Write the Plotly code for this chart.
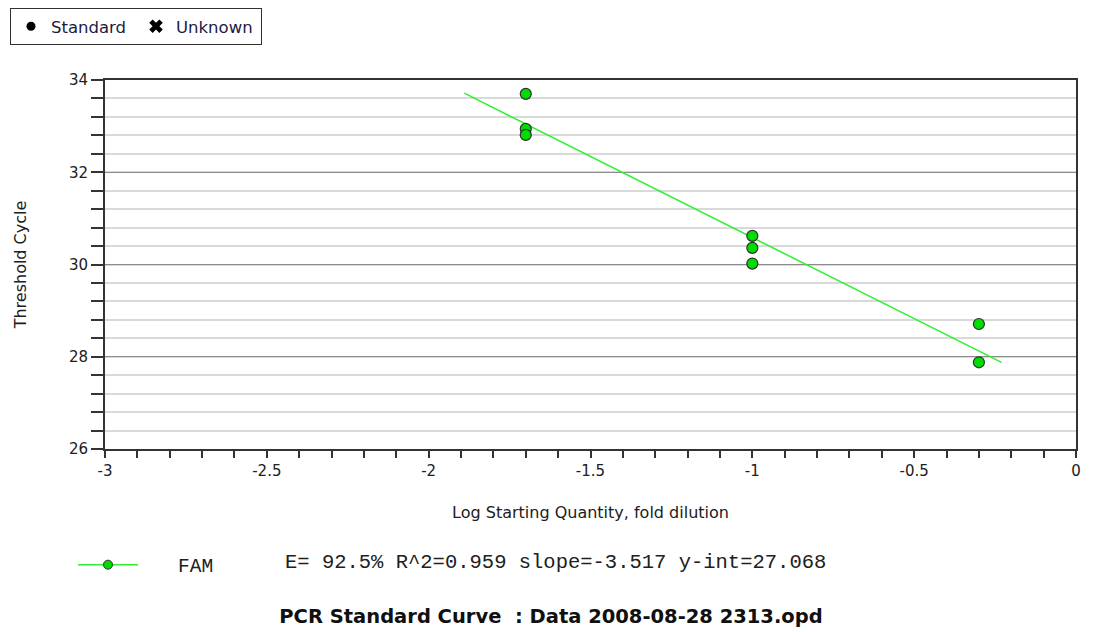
import plotly.graph_objects as go

# Standard wells: log starting quantity vs threshold cycle
log_qty = [-1.7, -1.7, -1.7, -1.0, -1.0, -1.0, -0.3, -0.3]
ct_values = [33.70, 32.94, 32.81, 30.62, 30.36, 30.02, 28.71, 27.88]

# Fit parameters reported for the FAM standard curve
efficiency_pct = 92.5
r_squared = 0.959
slope = -3.517
y_intercept = 27.068
fit_x_span = [-1.89, -0.23]

x_ticks = [-3, -2.5, -2, -1.5, -1, -0.5, 0]
x_tick_text = ["-3", "-2.5", "-2", "-1.5", "-1", "-0.5", "0"]
y_ticks = [26, 28, 30, 32, 34]

W, H = 1093, 632
L, R, T, B = 105, 14, 80, 183

fit_y = [slope * x + y_intercept for x in fit_x_span]

text_font = "DejaVu Sans, Verdana, sans-serif"
mono_font = "Liberation Mono, DejaVu Sans Mono, monospace"
text_color = "#202020"

fig = go.Figure()

# regression line
fig.add_trace(go.Scatter(
    x=fit_x_span, y=fit_y, mode="lines",
    line=dict(color="#33ee33", width=1.5),
    showlegend=False, hoverinfo="skip",
))
fig.add_trace(go.Scatter(
    x=log_qty, y=ct_values, mode="markers",
    marker=dict(color="#00dd00", size=11, line=dict(color="#303030", width=1.2)),
    showlegend=False,
))
# legend entry for the FAM series: line with marker
fig.add_trace(go.Scatter(
    x=[None], y=[None], mode="lines+markers", name="\u00a0\u00a0\u00a0FAM",
    line=dict(color="#33ee33", width=1.5),
    marker=dict(color="#00dd00", size=9, line=dict(color="#303030", width=1)),
    legend="legend2",
))
# sample-type legend
fig.add_trace(go.Scatter(
    x=[None], y=[None], mode="markers", name="Standard",
    marker=dict(color="black", size=9, symbol="circle"),
    legend="legend",
))
fig.add_trace(go.Scatter(
    x=[None], y=[None], mode="markers", name="Unknown",
    marker=dict(color="black", size=12, symbol="x"),
    legend="legend",
))

fig.add_annotation(
    text=f"E= {efficiency_pct}% R^2={r_squared} slope={slope} y-int={y_intercept}",
    xref="paper", yref="paper",
    x=(284 - L) / (W - L - R), y=(H - B - 562) / (H - T - B),
    xanchor="left", yanchor="middle", showarrow=False,
    font=dict(family=mono_font, size=20.5, color=text_color),
)

fig.update_layout(
    width=W, height=H,
    margin=dict(l=L, r=R, t=T, b=B),
    paper_bgcolor="white", plot_bgcolor="white",
    font=dict(family=text_font, size=15, color=text_color),
    title=dict(
        text="<b>PCR Standard Curve  : Data 2008-08-28 2313.opd</b>",
        xref="container", yref="container",
        x=551 / W, y=1 - 616 / H, xanchor="center", yanchor="middle",
        font=dict(family=text_font, size=19.5, color="#101010"),
    ),
    legend=dict(
        xref="container", yref="container",
        x=10 / W, y=1 - 8 / H, xanchor="left", yanchor="top",
        orientation="h", bordercolor="#303030", borderwidth=1,
        font=dict(family=text_font, size=16.5, color="#1a1a40"),
        itemwidth=30, tracegroupgap=0, entrywidth=80,
    ),
    legend2=dict(
        xref="container", yref="container",
        x=73 / W, y=1 - 565 / H, xanchor="left", yanchor="middle",
        orientation="h", borderwidth=0,
        font=dict(family=mono_font, size=19.5, color=text_color),
        itemwidth=60,
    ),
    xaxis=dict(
        range=[-3, 0], tickvals=x_ticks, ticktext=x_tick_text,
        showgrid=False, zeroline=False,
        showline=True, linecolor="#333333", linewidth=2, mirror=True,
        ticks="outside", ticklen=7, tickwidth=1.5, tickcolor="#333333",
        minor=dict(dtick=0.1, ticks="outside", ticklen=7, tickwidth=1.5,
                   tickcolor="#333333", showgrid=False),
        tickfont=dict(size=15),
        title=dict(text="Log Starting Quantity, fold dilution", standoff=28,
                   font=dict(size=16)),
    ),
    yaxis=dict(
        range=[26, 34], tickvals=y_ticks,
        showgrid=True, gridcolor="#8c8c8c", gridwidth=1,
        zeroline=False,
        showline=True, linecolor="#333333", linewidth=2, mirror=True,
        ticks="outside", ticklen=12, tickwidth=1.5, tickcolor="#333333",
        minor=dict(dtick=0.4, tick0=26, ticks="outside", ticklen=12, tickwidth=1.5,
                   tickcolor="#333333", showgrid=True, gridcolor="#d9d9d9",
                   gridwidth=1.5),
        tickfont=dict(size=15),
        title=dict(text="Threshold Cycle", standoff=38, font=dict(size=16)),
    ),
)

fig.write_html("out.html")
